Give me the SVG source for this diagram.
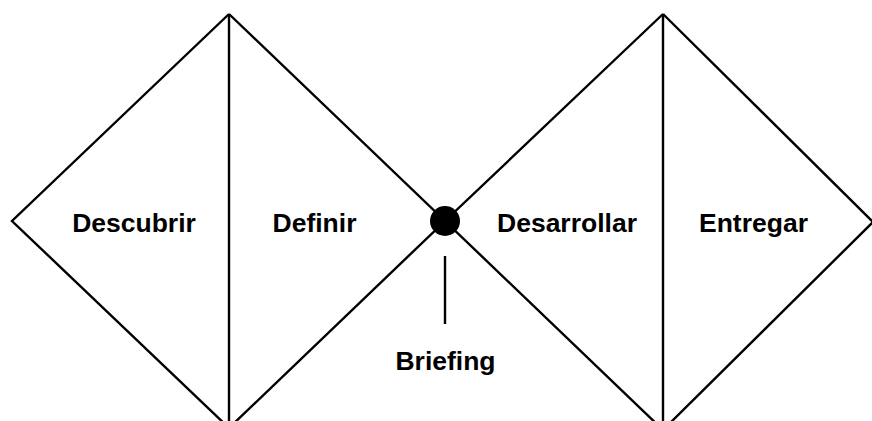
<svg xmlns="http://www.w3.org/2000/svg" width="872" height="421" viewBox="0 0 872 421">
<style>
.ln{fill:none;stroke:#000;stroke-width:2.4;stroke-linejoin:miter}
.lb{font-family:"Liberation Sans",Arial,sans-serif;font-weight:bold;font-size:26.5px;fill:#000;text-anchor:middle;font-variant-ligatures:none}
</style>
<rect width="872" height="421" fill="#fff"/>
<g id="connectors">
<path class="ln" d="M229,14 L229,421"/>
<path class="ln" d="M663,14 L663,421"/>
<path class="ln" d="M445,256 L445,324" stroke-width="2.2"/>
</g>
<g id="diamond-left">
<path class="ln" d="M229,14 L12,221 L229,428 M229,14 L445,221 L229,428"/>
</g>
<g id="diamond-right">
<path class="ln" d="M663,14 L445,221 L663,430 M663,14 L873,222 L663,430"/>
</g>
<g id="briefing-point">
<circle cx="445" cy="221" r="15" fill="#000"/>
</g>
<g id="descubrir"><text class="lb" x="134" y="232">Descubrir</text></g>
<g id="definir"><text class="lb" x="314.5" y="232">Definir</text></g>
<g id="desarrollar"><text class="lb" x="567" y="232">Desarrollar</text></g>
<g id="entregar"><text class="lb" x="753.5" y="232">Entregar</text></g>
<g id="briefing"><text class="lb" x="445.5" y="370">Briefing</text></g>
</svg>
